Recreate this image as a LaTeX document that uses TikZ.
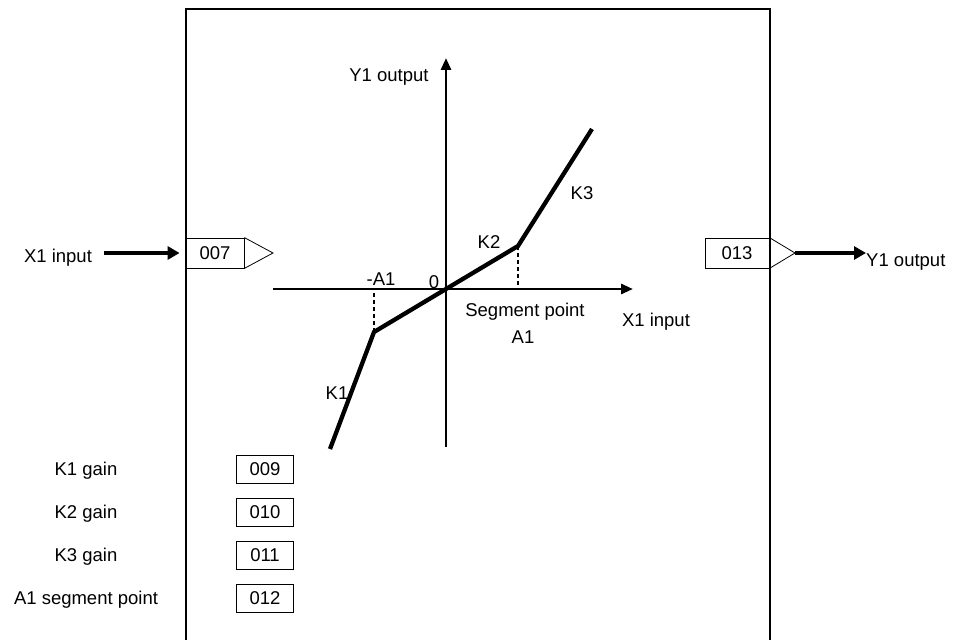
\documentclass[tikz,border=0pt]{standalone}
\usepackage{fontspec}
\setmainfont{Liberation Sans}
\usetikzlibrary{arrows.meta}

\begin{document}
\begin{tikzpicture}[x=1pt, y=-1pt, font=\fontsize{18.5}{22}\selectfont,
    portbox/.style={draw, line width=0.8pt, minimum width=58pt, minimum height=30pt, inner sep=0pt},
    parambox/.style={draw, line width=0.8pt, minimum width=57pt, minimum height=28pt, inner sep=0pt},
    fatarrow/.style={line width=4.5pt, -{Triangle[length=12pt, width=13pt]}},
    axisline/.style={line width=2.8pt, -{Triangle[length=12pt, width=10pt]}},
    curveline/.style={line width=4.3pt, line join=miter},
    guideline/.style={line width=1.2pt, dash pattern=on 4pt off 3pt}]
    \useasboundingbox (0,0) rectangle (957,639);
    \draw[line width=2pt] (186,641) -- (186,9) -- (770,9) -- (770,641);
    \node[portbox] (inbox) at (215,253) {007};
    \draw[line width=0.8pt] (inbox.north east) -- (273,253) coordinate (intip) -- (inbox.south east);
    \node (xin) at (58,258) {X1 input};
    \draw[fatarrow, shorten <=9pt, shorten >=6pt] (xin.east |- inbox.west) -- (inbox.west);
    \node[portbox, minimum width=64pt] (outbox) at (737,253) {013};
    \draw[line width=0.8pt] (outbox.north east) -- (795,253) coordinate (outtip) -- (outbox.south east);
    \node[anchor=west, inner sep=0pt] (yout) at (866,262) {Y1 output};
    \draw[fatarrow] (outtip) -- (yout.west |- outtip);
    \coordinate (O) at (446,289);
    \coordinate (xstart) at (273,289);
    \coordinate (xend) at (633,289);
    \coordinate (ystart) at (446,447);
    \coordinate (yend) at (446,58);
    \coordinate (k1end) at (330,449);
    \coordinate (negA) at (374,332);
    \coordinate (posA) at (518,246);
    \coordinate (k3end) at (592,129);
    \draw[axisline] (xstart) -- (xend);
    \draw[axisline] (ystart) -- (yend);
    \draw[guideline] (negA) -- (negA |- O);
    \draw[guideline] (posA) -- (posA |- O);
    \draw[curveline] (k1end) -- (negA) -- (O) -- (posA) -- (k3end);
    \node (ylabel) at (389,77) {Y1 output};
    \node (xlabel) at (656,322) {X1 input};
    \node (negAlabel) at (381,279) {-A1};
    \node (zero) at (434,282) {0};
    \node (segpoint) at (525,312) {Segment point};
    \node (posAlabel) at (523,337) {A1};
    \node (k1) at (337,393) {K1};
    \node (k2) at (489,242) {K2};
    \node (k3) at (582,193) {K3};
    \node[parambox] (par1) at (265,469) {009};
    \node[parambox] (par2) at (265,512) {010};
    \node[parambox] (par3) at (265,555) {011};
    \node[parambox] (par4) at (265,598) {012};
    \node (lbl1) at (86,471) {K1 gain};
    \node (lbl2) at (86,514) {K2 gain};
    \node (lbl3) at (86,557) {K3 gain};
    \node (lbl4) at (86,600) {A1 segment point};
\end{tikzpicture}
\end{document}
